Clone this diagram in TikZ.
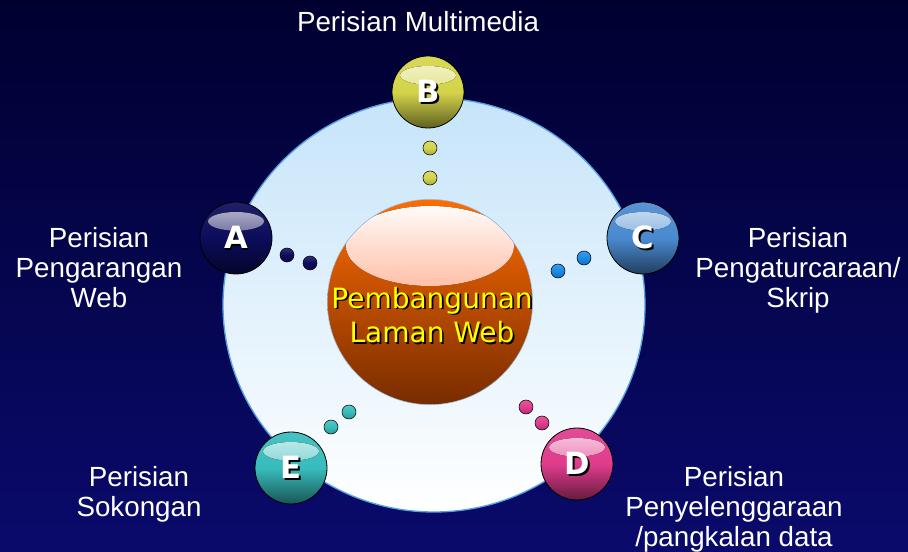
\documentclass[tikz,border=0pt]{standalone}
\usepackage{fontspec}
\setmainfont{Liberation Sans}
\newfontfamily\ballfont{DejaVu Sans}
\usetikzlibrary{positioning}

\definecolor{nightsky}{HTML}{000030}
\definecolor{deepsky}{HTML}{0A0A6C}
\definecolor{ringtop}{HTML}{C6E4FA}
\definecolor{ringedge}{HTML}{5AA0E6}
\definecolor{hubtop}{HTML}{FF6C00}
\definecolor{hubmid}{HTML}{D85200}
\definecolor{hubbottom}{HTML}{782C00}
\definecolor{hubshine}{HTML}{FF6A30}
\definecolor{navyball}{HTML}{0C0C5C}
\definecolor{yellowball}{HTML}{D4D44A}
\definecolor{blueball}{HTML}{4A8AD0}
\definecolor{skydot}{HTML}{1A8AE6}
\definecolor{pinkball}{HTML}{E03C8C}
\definecolor{tealball}{HTML}{38BCBC}
\definecolor{hubyellow}{HTML}{FFFF00}

\newcommand{\dropshade}[1]{\leavevmode\rlap{\kern1.3pt\raisebox{-1.3pt}{\color{black}#1}}#1}

\tikzstyle{softlabel}=[
	text=white,
	align=center,
	inner sep=0pt,
	font=\fontsize{20.8}{22.5}\selectfont
]
\tikzset{
	ball/.style={
		circle,
		draw=black,
		semithick,
		minimum size=54pt,
		inner sep=0pt,
		text=white,
		font=\ballfont\bfseries\fontsize{23}{23}\selectfont,
		top color=#1!92!white,
		bottom color=#1!45!black,
		middle color=#1,
		path picture={
			\fill[top color=#1!25!white, middle color=#1!60!white, bottom color=#1]
				([yshift=12.5pt]path picture bounding box.center) ellipse [x radius=21pt, y radius=7pt];
		}
	},
	pebble/.style={
		circle,
		draw=black,
		thin,
		minimum size=10.5pt,
		inner sep=0pt,
		top color=#1!85!white,
		bottom color=#1!80!black,
		middle color=#1
	}
}

\begin{document}
\begin{tikzpicture}[x=0.75pt, y=-0.75pt]
% backdrop and ring
\fill[top color=nightsky, bottom color=deepsky] (0,0) rectangle (908,552);
\draw[ringedge, line width=1pt, top color=ringtop, bottom color=white]
	(434,305) ellipse [x radius=211, y radius=207];

% centre sphere
\node[circle, draw=ringedge!60!white, thin, minimum size=154pt, inner sep=0pt,
	top color=hubtop, middle color=hubmid, bottom color=hubbottom,
	path picture={
		\fill[top color=white, middle color=hubshine!45!white, bottom color=hubshine]
			([yshift=42pt]path picture bounding box.center) ellipse [x radius=63pt, y radius=30pt];
	}] (hub) at (430,302) {};
\node[text=hubyellow, align=center, font=\ballfont\fontsize{21}{26}\selectfont]
	(hubtext) at (432,316) {\dropshade{Pembangunan}\\\dropshade{Laman Web}};

% small dots
\node[pebble=yellowball] (B1) at (430,148) {};
\node[pebble=yellowball] (B2) at (430,178) {};
\node[pebble=navyball] (A1) at (287,255) {};
\node[pebble=navyball] (A2) at (310,263) {};
\node[pebble=skydot] (C1) at (584,258) {};
\node[pebble=skydot] (C2) at (558,271) {};
\node[pebble=pinkball] (D1) at (526,407) {};
\node[pebble=pinkball] (D2) at (542,423) {};
\node[pebble=tealball] (E1) at (349,412) {};
\node[pebble=tealball] (E2) at (331,427) {};

% outer balls
\node[ball=navyball] (A) at (236,238) {\dropshade{A}};
\node[ball=yellowball] (B) at (428,92) {\dropshade{B}};
\node[ball=blueball] (C) at (643,238) {\dropshade{C}};
\node[ball=pinkball] (D) at (577,464) {\dropshade{D}};
\node[ball=tealball] (E) at (291,468) {\dropshade{E}};

% labels
\node[softlabel] (multimedia) at (418,22) {Perisian Multimedia};
\node[softlabel] (authoring) at (99,268) {Perisian\\Pengarangan\\Web};
\node[softlabel] (scripting) at (798,270) {Perisian\\Pengaturcaraan/\\Skrip};
\node[softlabel] (support) at (139,494) {Perisian\\Sokongan};
\node[softlabel] (database) at (734,509) {Perisian\\Penyelenggaraan\\/pangkalan data};
\end{tikzpicture}
\end{document}
